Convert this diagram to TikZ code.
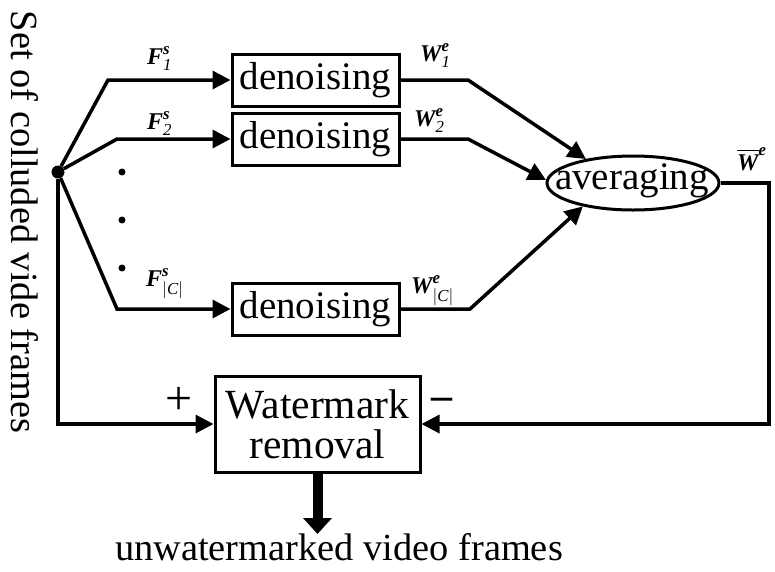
\documentclass[tikz,border=0pt]{standalone}
\usepackage{fontspec}
\setmainfont{Liberation Serif}
\usepackage{amsmath}
\usetikzlibrary{arrows.meta,shapes.geometric}
\newcommand\bi[1]{\text{\bfseries\itshape #1}}
\begin{document}
\begin{tikzpicture}[x=1pt,y=-1pt,
  conn/.style={line width=3.5pt, line join=miter},
  arr/.style={conn, -{Triangle[length=18pt,width=18pt]}},
  procbox/.style={draw, line width=3pt, minimum width=167pt, minimum height=52pt, inner sep=0pt, font=\fontsize{39}{44}\selectfont},
  lbl/.style={anchor=base west, inner sep=0pt, font=\fontsize{24}{28}\selectfont},
  vdot/.style={circle, fill, inner sep=0pt, minimum size=7pt}]
\useasboundingbox (0,0) rectangle (775,571);

% vertical caption
\node[rotate=-90, inner sep=0pt, font=\fontsize{38.4}{44}\selectfont] (cap) at (25,222) {Set of colluded vide frames};

% source dot
\node[circle, fill, inner sep=0pt, minimum size=13pt] (src) at (58,172) {};

% denoising boxes
\node[procbox] (d1) at (315.5,80) {denoising};
\node[procbox] (d2) at (315.5,139) {denoising};
\node[procbox] (d3) at (315.5,309) {denoising};

% averaging
\node[ellipse, draw, line width=3pt, minimum width=172pt, minimum height=54pt, inner sep=0pt] (avg) at (633,183) {};
\node[inner sep=0pt, font=\fontsize{39}{44}\selectfont] (avgtxt) at (632,181) {averaging};

% watermark removal
\node[procbox, minimum width=205pt, minimum height=96pt, align=center, font=\fontsize{41.5}{40}\selectfont] (wm) at (317.5,424) {Watermark\\removal};

% output text
\node[anchor=base, inner sep=0pt, font=\fontsize{38.4}{44}\selectfont] (out) at (339,560) {unwatermarked video frames};

% dots
\node[vdot] (dot1) at (122,172) {};
\node[vdot] (dot2) at (122,220) {};
\node[vdot] (dot3) at (122,268) {};

% corner coordinates
\coordinate (c1) at (108,80);
\coordinate (c2) at (117,139);
\coordinate (c3) at (117,309);
\coordinate (e1) at (468,80);
\coordinate (e2) at (468,139);
\coordinate (e3) at (470,309);
\coordinate (r1) at (769,183);

% connectors
\draw[arr] (src) -- (c1) -- (d1.west);
\draw[arr] (src) -- (c2) -- (d2.west);
\draw[arr] (src) -- (c3) -- (d3.west);
\draw[arr] (src) |- (wm.west);
\draw[arr] (d1.east) -- (e1) -- (avg.153);
\draw[arr] (d2.east) -- (e2) -- (avg.178);
\draw[arr] (d3.east) -- (e3) -- (avg.205);
\draw[arr] (avg.east) -- (r1) |- (wm.east);
\draw[line width=10pt, -{Triangle[length=16pt,width=28pt]}] (wm.south) -- (wm.south |- 0,534);

% labels
\node[lbl] (lf1) at (147,64) {$\bi{F}^{\bi{s}}_{\textit{1}}$};
\node[lbl] (lf2) at (147,129) {$\bi{F}^{\bi{s}}_{\textit{2}}$};
\node[lbl] (lf3) at (146,286) {$\bi{F}^{\bi{s}}_{|\textit{C}|}$};
\node[lbl] (lw1) at (420,61) {$\bi{W}^{\bi{e}}_{\textit{1}}$};
\node[lbl] (lw2) at (414,126) {$\bi{W}^{\bi{e}}_{\textit{2}}$};
\node[lbl] (lw3) at (411,293) {$\bi{W}^{\bi{e}}_{|\textit{C}|}$};
\node[lbl] (lwb) at (737,170) {$\overline{\bi{W}}^{\bi{e}}$};

\node[inner sep=0pt, font=\fontsize{48}{50}\selectfont] (plus) at (179,401) {+};
\node[inner sep=0pt, font=\bfseries\fontsize{42}{46}\selectfont] (minus) at (442,404) {–};
\end{tikzpicture}
\end{document}
